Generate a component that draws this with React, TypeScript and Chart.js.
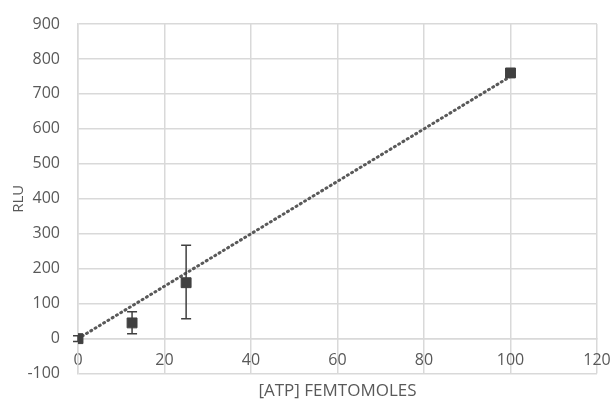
import React, { useEffect, useRef } from "react";
import { Chart, registerables } from "chart.js";

Chart.register(...registerables);

const atpFemtomoles = [0, 12.5, 25, 100];
const rluMeans = [0, 45, 160, 760];
const rluLow = [-8, 14, 57, 752];
const rluHigh = [8, 77, 267, 768];
const trendX = [0, 100];
const trendY = [0, 750];

const errorBarPlugin = {
  id: "errorBars",
  afterDatasetsDraw(chart: any) {
    const { ctx, scales } = chart;
    const xs = scales.x;
    const ys = scales.y;
    ctx.save();
    ctx.strokeStyle = "#404040";
    ctx.lineWidth = 1.5;
    for (let i = 0; i < atpFemtomoles.length; i++) {
      const px = xs.getPixelForValue(atpFemtomoles[i]);
      const lo = ys.getPixelForValue(rluLow[i]);
      const hi = ys.getPixelForValue(rluHigh[i]);
      ctx.beginPath();
      ctx.moveTo(px, lo);
      ctx.lineTo(px, hi);
      ctx.moveTo(px - 5, lo);
      ctx.lineTo(px + 5, lo);
      ctx.moveTo(px - 5, hi);
      ctx.lineTo(px + 5, hi);
      ctx.stroke();
    }
    ctx.restore();
  },
};

export default function App() {
  const ref = useRef<HTMLCanvasElement | null>(null);
  useEffect(() => {
    if (!ref.current) return;
    const font = { family: "'Open Sans', sans-serif", size: 16 };
    const chart = new Chart(ref.current, {
      type: "scatter",
      data: {
        datasets: [
          {
            type: "line",
            data: trendX.map((x, i) => ({ x, y: trendY[i] })),
            borderColor: "#595959",
            borderWidth: 3,
            borderDash: [1, 4],
            borderCapStyle: "round",
            pointRadius: 0,
            fill: false,
            order: 2,
          } as any,
          {
            data: atpFemtomoles.map((x, i) => ({ x, y: rluMeans[i] })),
            backgroundColor: "#404040",
            borderColor: "#404040",
            pointStyle: "rect",
            pointRadius: 7,
            order: 1,
          },
        ],
      },
      options: {
        animation: false,
        responsive: false,
        layout: { padding: { left: 0, right: 0, top: 24, bottom: 0 } },
        plugins: {
          legend: { display: false },
          tooltip: { enabled: false },
          title: {
            display: true,
            position: "bottom",
            fullSize: false,
            text: "[ATP] FEMTOMOLES",
            color: "#595959",
            font: { ...font, size: 17, weight: "normal" },
            padding: { top: 7, bottom: 0 },
          },
        },
        scales: {
          x: {
            type: "linear",
            position: { y: 0 } as any,
            min: 0,
            max: 120,
            afterFit: (scale: any) => {
              scale.paddingRight = 15;
              scale.paddingLeft = 0;
            },
            ticks: { stepSize: 20, color: "#595959", font, padding: 12 },
            grid: { color: "#d9d9d9", lineWidth: 1.5, drawTicks: false },
            border: { color: "#d9d9d9", width: 1.5 },
          },
          y: {
            min: -100,
            max: 900,
            afterFit: (scale: any) => {
              scale.width = 78;
              scale.paddingTop = 0;
              scale.paddingBottom = 0;
            },
            ticks: { stepSize: 100, color: "#595959", font, padding: 18 },
            grid: { color: "#d9d9d9", lineWidth: 1.5, drawTicks: false },
            border: { color: "#d9d9d9", width: 1.5 },
            title: {
              display: true,
              text: "RLU",
              color: "#595959",
              font: { ...font, size: 15 },
              padding: { top: 10, bottom: 0 },
            },
          },
        },
      },
      plugins: [errorBarPlugin],
    });
    return () => chart.destroy();
  }, []);
  return (
    <div style={{ position: "fixed", left: 0, top: 0, width: 612, height: 401, background: "#fff" }}>
      <canvas ref={ref} width={612} height={401} />
    </div>
  );
}
